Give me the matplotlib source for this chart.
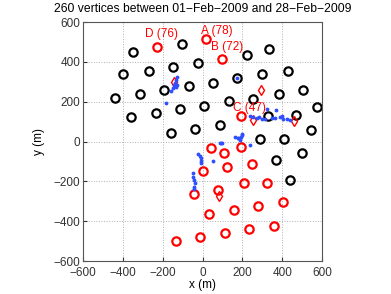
import matplotlib
matplotlib.use("Agg")
import matplotlib.pyplot as plt

plt.rcParams["font.family"] = ["Liberation Sans", "DejaVu Sans"]

# station positions (m)
black_x = [-350, -101, -398, -270, -147, -24, -441, -315, -192, -69, 53, 172,
           -360, -235, -114, 9, 131, -160, -36, 88, 222, 335, 300, 427, 381,
           504, 255, 575, 471, 327, 543, 290, 411, 370, 499, 441]
black_y = [451, 491, 337, 355, 375, 396, 218, 238, 259, 279, 295, 317,
           121, 142, 162, 180, 205, 44, 64, 83, 436, 464, 337, 352, 240,
           259, 212, 173, 131, 128, 58, 11, 14, -91, -58, -193]

red_x = [-228, 19, 98, 193, 44, 110, 193, 1, 123, 247, 207, 325, -44, 78,
         34, 157, 280, 404, -135, -11, 111, 235, 359]
red_y = [473, 513, 414, 126, -33, -58, -29, -150, -130, -111, -208, -208,
         -265, -245, -364, -344, -325, -305, -500, -479, -461, -441, -423]

diam_x = [-145, 295, 252, 458, 81]
diam_y = [299, 257, 108, 103, -275]

# vertices
blue_x = [-130, -135, -138, -143, -148, -160, -130, -135, -182, 172,
          238, 255, 272, 285, 299, 314, 347, 364, 386, 397, 406, 423, 439, 322, 367,
          88, 163, 180, 193, 200, 188, 238, 177, 197, 91, 96, 54,
          -13, -9, -6, -9, -49, -46, -41, -38, -43, -44, -23]
blue_y = [322, 309, 295, 284, 270, 254, 284, 275, 193, 317,
          128, 124, 119, 121, 115, 111, 119, 119, 125, 130, 115, 111, 108, 162, 158,
          -6, 24, 16, 24, 36, 8, -17, 16, 34, -6, -9, -98,
          -73, -84, -96, -106, -160, -177, -193, -210, -227, -240, -60]

labels = ["D (76)", "A (78)", "B (72)", "C (47)"]
label_x = [-289, -9, 41, 155]
label_y = [538, 555, 473, 168]

fig = plt.figure(figsize=(3.91, 2.94), dpi=100)
ax = fig.add_axes([0.212, 0.112, 0.612, 0.813])

ax.plot(black_x, black_y, "o", mfc="none", mec="black", ms=6, mew=1.6)
ax.plot(red_x, red_y, "o", mfc="none", mec="red", ms=6, mew=1.6)
ax.plot(diam_x, diam_y, "d", mfc="none", mec="red", ms=5.5, mew=1.0)
ax.plot(blue_x, blue_y, ".", color="#3050ff", ms=3.5)

for t, x, y in zip(labels, label_x, label_y):
    ax.text(x, y, t, color="red", fontsize=8.5, ha="left", va="center")

ax.set_xlim(-600, 600)
ax.set_ylim(-600, 600)
ax.set_xticks(range(-600, 601, 200))
ax.set_yticks(range(-600, 601, 200))
ax.grid(True, linestyle=":", color="#b0b0b0", linewidth=0.7)
ax.tick_params(direction="in", labelsize=8.5, length=3, colors="#333333", pad=2)
ax.tick_params(axis="x", pad=4)
for s in ax.spines.values():
    s.set_color("#555555")
    s.set_linewidth(0.8)
ax.set_xlabel("x (m)", fontsize=8.5, labelpad=0)
ax.set_ylabel("y (m)", fontsize=8.5, labelpad=6)
ax.set_title("260 vertices between 01\u2212Feb\u22122009 and 28\u2212Feb\u22122009",
             fontsize=8.7, pad=7)

fig.savefig("out.png", dpi=100)
